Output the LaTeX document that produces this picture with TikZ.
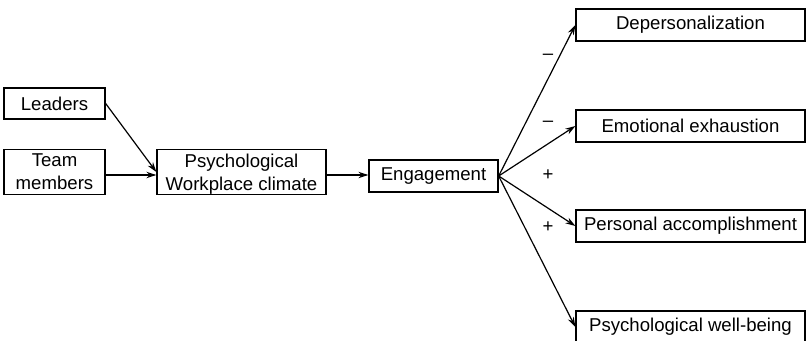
\documentclass[tikz,border=0pt]{standalone}
\usepackage{fontspec}
\setmainfont{Liberation Sans}
\usepackage{tikz}
\usetikzlibrary{arrows.meta,positioning}

\begin{document}
\begin{tikzpicture}[x=0.5pt,y=-0.5pt,font=\fontsize{9.3}{11.5}\selectfont,>={Stealth[length=5pt,width=3.2pt]},
 box/.style={draw,line width=0.65pt,inner sep=0pt,align=center},
 link/.style={->,line width=0.6pt}]
\useasboundingbox (0,0) rectangle (807,341);
% left: where the climate comes from
\node[box,minimum width=50.5pt,minimum height=15.5pt] (leaders) at (54.5,103.5) {Leaders};
\node[box,minimum width=50.5pt,minimum height=22.5pt,text depth=-3pt] (team) at (54.5,172) {Team\\members};
\node[box,minimum width=84.5pt,minimum height=22.5pt,text depth=-1.5pt] (climate) at (241.5,172) {Psychological\\Workplace climate};
\node[box,minimum width=64.5pt,minimum height=16pt] (engage) at (433.5,176) {Engagement};
% right: the outcomes
\node[box,minimum width=114.5pt,minimum height=16pt] (deper) at (690.5,25) {Depersonalization};
\node[box,minimum width=114.5pt,minimum height=16pt] (exhaust) at (690.5,126) {Emotional exhaustion};
\node[box,minimum width=114.5pt,minimum height=16pt] (accomp) at (690.5,226) {Personal accomplishment};
\node[box,minimum width=114.5pt,minimum height=16pt] (wellb) at (690.5,327) {Psychological well-being};
% signs on the paths
\node (s1) at (548,57) {–};
\node (s2) at (548,124) {–};
\node (s3) at (548,175) {+};
\node (s4) at (548,227) {+};
% arrows
\draw[link] (leaders.east) -- (climate.west);
\draw[link] (team.east |- 0,175) -- (climate.west |- 0,175);
\draw[link] (climate.east |- 0,175) -- (engage.west |- 0,175);
\foreach \t in {deper,exhaust,accomp,wellb}
 \draw[link] (engage.east) -- (\t.west);
\end{tikzpicture}
\end{document}
